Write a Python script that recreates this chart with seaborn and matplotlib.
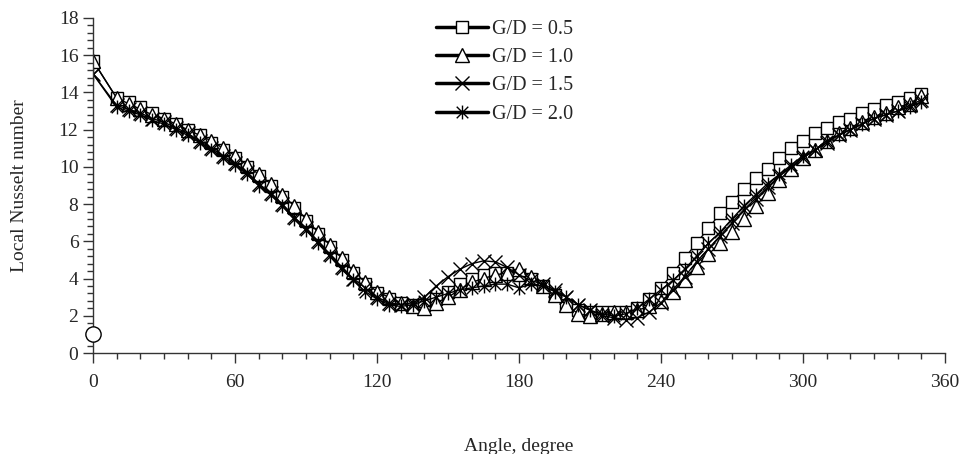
import numpy as np
import pandas as pd
import matplotlib
matplotlib.use('Agg')
import matplotlib.pyplot as plt
from matplotlib.path import Path
from matplotlib.ticker import MultipleLocator
import seaborn as sns

# Data (angle in degrees)
angles = [0] + list(range(10, 355, 5))

gd_05 = [15.7, 13.7, 13.5, 13.2, 12.9, 12.6, 12.3, 12.0, 11.7,
         11.3, 10.9, 10.5, 10.0, 9.5, 9.0, 8.4, 7.8, 7.1, 6.4,
         5.7, 5.0, 4.3, 3.7, 3.2, 2.9, 2.7, 2.6, 2.6, 2.9,
         3.3, 3.7, 4.0, 4.2, 4.3, 4.3, 4.2, 4.0, 3.6, 3.1,
         2.6, 2.3, 2.2, 2.2, 2.2, 2.2, 2.4, 2.9, 3.5, 4.3,
         5.1, 5.9, 6.7, 7.5, 8.1, 8.8, 9.4, 9.9, 10.5, 11.0,
         11.4, 11.8, 12.1, 12.4, 12.6, 12.9, 13.1, 13.3, 13.5, 13.7, 13.9]

gd_10 = [15.7, 13.7, 13.4, 13.1, 12.8, 12.6, 12.3, 12.0, 11.7,
         11.4, 11.0, 10.6, 10.1, 9.6, 9.1, 8.5, 7.9, 7.2, 6.5,
         5.8, 5.1, 4.4, 3.8, 3.3, 3.0, 2.7, 2.5, 2.4, 2.7,
         3.0, 3.4, 3.8, 4.0, 4.2, 4.3, 4.5, 4.1, 3.6, 3.1,
         2.6, 2.1, 2.0, 2.1, 2.2, 2.2, 2.3, 2.5, 2.8, 3.3,
         3.9, 4.6, 5.3, 5.9, 6.5, 7.2, 7.9, 8.6, 9.3, 9.9,
         10.5, 10.9, 11.4, 11.8, 12.1, 12.4, 12.7, 12.9, 13.2, 13.4, 13.8]

gd_15 = [15.0, 13.3, 13.1, 12.9, 12.6, 12.4, 12.1, 11.8, 11.4,
         11.0, 10.6, 10.2, 9.7, 9.1, 8.6, 8.0, 7.3, 6.7, 6.0,
         5.3, 4.6, 4.0, 3.5, 3.0, 2.7, 2.6, 2.7, 3.0, 3.6,
         4.1, 4.5, 4.8, 4.95, 4.9, 4.6, 4.2, 3.9, 3.7, 3.4,
         3.0, 2.6, 2.3, 2.0, 1.9, 1.8, 1.9, 2.2, 2.7, 3.4,
         4.1, 4.9, 5.6, 6.3, 7.0, 7.7, 8.3, 8.9, 9.5, 10.0,
         10.5, 10.9, 11.3, 11.7, 12.0, 12.3, 12.6, 12.8, 13.0, 13.3, 13.6]

gd_20 = [15.0, 13.2, 13.0, 12.8, 12.5, 12.3, 12.0, 11.7, 11.3,
         10.9, 10.5, 10.1, 9.6, 9.0, 8.5, 7.9, 7.2, 6.6, 5.9,
         5.2, 4.5, 3.9, 3.3, 2.9, 2.6, 2.5, 2.6, 2.8, 3.0,
         3.2, 3.4, 3.5, 3.6, 3.7, 3.7, 3.5, 3.7, 3.6, 3.3,
         3.0, 2.6, 2.3, 2.1, 2.0, 2.1, 2.4, 2.9, 3.4, 3.9,
         4.5, 5.2, 5.9, 6.5, 7.2, 7.9, 8.5, 9.1, 9.6, 10.1,
         10.6, 10.9, 11.4, 11.7, 12.0, 12.3, 12.6, 12.8, 13.0, 13.2, 13.5]

labels = ['G/D = 0.5', 'G/D = 1.0', 'G/D = 1.5', 'G/D = 2.0']

# lone circle at the origin
circle_x = [0]
circle_y = [1.0]

# asterisk marker: X plus a vertical stroke
star = Path([(-1, -1), (1, 1), (-1, 1), (1, -1), (0, -1.2), (0, 1.2)],
            [Path.MOVETO, Path.LINETO, Path.MOVETO, Path.LINETO, Path.MOVETO, Path.LINETO])

sns.set_style('ticks')
plt.rcParams['font.family'] = ['Liberation Serif', 'DejaVu Serif']

fig = plt.figure(figsize=(9.65, 4.54), dpi=100)
ax = fig.add_axes([93 / 965, 1 - 353 / 454, 852 / 965, 335 / 454])

styles = [
    dict(marker='s', markersize=8, mfc='white', mec='black', mew=1.0),
    dict(marker='^', markersize=9.5, mfc='white', mec='black', mew=1.0),
    dict(marker='x', markersize=10, mec='black', mew=1.0),
    dict(marker=star, markersize=10, mfc='none', mec='black', mew=1.0),
]

for vals, lab, st in zip([gd_05, gd_10, gd_15, gd_20], labels, styles):
    df = pd.DataFrame({'angle': angles, 'nu': vals})
    sns.lineplot(data=df, x='angle', y='nu', ax=ax, color='black',
                 linewidth=1.0, label=lab, **st)

ax.plot(circle_x, circle_y, marker='o', markersize=11, mfc='white',
        mec='black', mew=1.0, linestyle='none', clip_on=False, zorder=5)

ax.set_xlim(0, 360)
ax.set_ylim(0, 18)
ax.xaxis.set_major_locator(MultipleLocator(60))
ax.xaxis.set_minor_locator(MultipleLocator(10))
ax.yaxis.set_major_locator(MultipleLocator(2))
ax.yaxis.set_minor_locator(MultipleLocator(0.4))
ax.tick_params(axis='both', which='major', labelsize=14, length=7, width=1,
               color='#333333', direction='out')
ax.tick_params(axis='both', which='minor', length=4.5, width=1,
               color='#333333', direction='out')
ax.tick_params(axis='x', which='major', pad=8)

for s in ['top', 'right']:
    ax.spines[s].set_visible(False)
for s in ['left', 'bottom']:
    ax.spines[s].set_color('#333333')
    ax.spines[s].set_linewidth(1)

ax.set_xlabel('Angle, degree', fontsize=14, labelpad=34)
ax.set_ylabel('Local Nusselt number', fontsize=14, labelpad=22)

leg = ax.legend(loc='upper left', bbox_to_anchor=(436 / 965, 1 - 20 / 454),
                bbox_transform=fig.transFigure, frameon=False, fontsize=14.5,
                handlelength=2.6, handletextpad=0.2, labelspacing=0.45,
                borderpad=0, borderaxespad=0)
for line in leg.get_lines():
    line.set_linewidth(2.5)

fig.savefig('out.png', dpi=100)
